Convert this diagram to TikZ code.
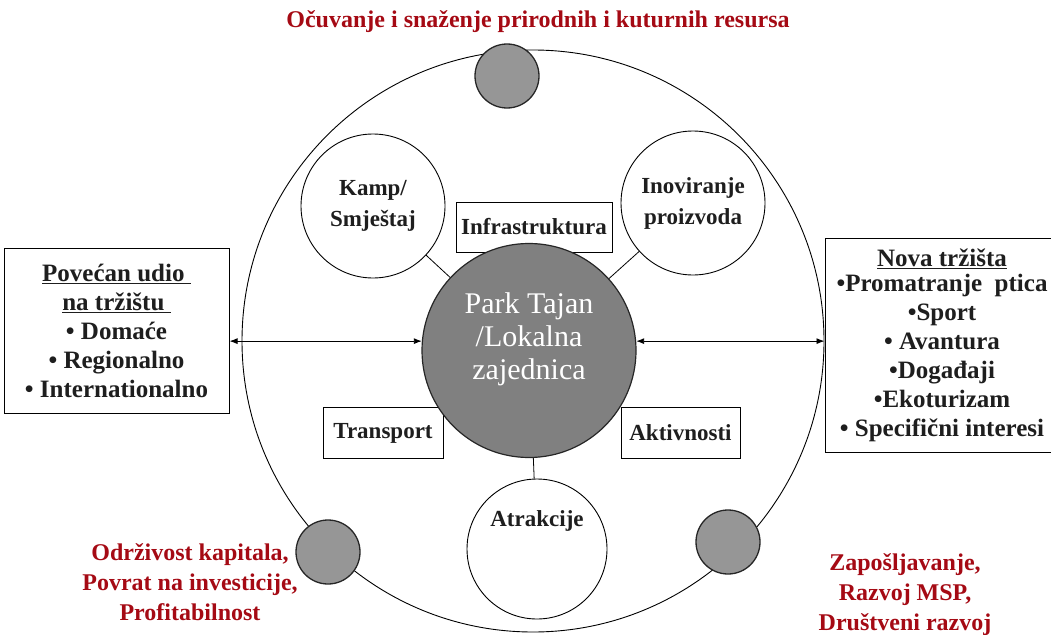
\documentclass[tikz,border=0pt]{standalone}
\usepackage{fontspec}
\setmainfont{Liberation Serif}
\usetikzlibrary{arrows.meta}
\definecolor{darkred}{RGB}{165,10,20}
\definecolor{parkgray}{RGB}{128,128,128}
\definecolor{dotgray}{RGB}{150,150,150}
\definecolor{inkblack}{RGB}{30,30,30}
\begin{document}
\begin{tikzpicture}[x=1pt,y=-1pt,
  lbl/.style={font=\fontsize{23}{31}\selectfont\bfseries, text=inkblack, align=center},
  sidelbl/.style={font=\fontsize{25}{29}\selectfont\bfseries, text=inkblack, align=center},
  redlbl/.style={font=\fontsize{24}{30}\selectfont\bfseries, text=darkred, align=center},
  ring/.style={circle, draw, line width=0.9pt, fill=white, inner sep=0pt},
  dot/.style={circle, draw=black!85, line width=1.3pt, fill=dotgray, minimum size=64pt, inner sep=0pt},
  boxn/.style={draw, line width=1pt, fill=white, inner sep=0pt},
  arr/.style={line width=0.9pt, {Latex[length=8pt,width=6pt]}-{Latex[length=8pt,width=6pt]}},
  link/.style={line width=0.8pt}
]
\useasboundingbox (0,0) rectangle (1051,634);

% outer ring
\node[circle, draw, line width=0.9pt, minimum size=582pt, inner sep=0pt] (outer) at (533,341) {};

% satellite circles
\node[ring, minimum size=144pt, lbl] (kamp) at (373,206) {Kamp/\\Smještaj};
\node[ring, minimum size=144pt, lbl] (inov) at (693,203) {Inoviranje\\proizvoda};
\node[ring, minimum size=140pt] (atr) at (537,549) {};
\node[lbl] (atrl) at (537,521) {Atrakcije};

% boxes
\node[boxn, minimum width=156pt, minimum height=50pt, lbl] (infra) at (534,227) {\raisebox{-3pt}{Infrastruktura}};
\node[boxn, minimum width=120pt, minimum height=51pt, lbl] (trans) at (383,433) {\raisebox{-8pt}{Transport}};
\node[boxn, minimum width=119pt, minimum height=51pt, lbl] (akt) at (680.5,433) {\raisebox{-8pt}{Aktivnosti}};

% links
\draw[link] (kamp) -- (529,350.5);
\draw[link] (inov) -- (529,350.5);

% centre
\node[circle, draw=black!85, line width=1.2pt, fill=parkgray, minimum size=214pt, inner sep=0pt,
  label={[font=\fontsize{30}{33}\selectfont, text=white, align=center, yshift=11pt]center:Park Tajan\\/Lokalna\\zajednica}]
  (park) at (529,350.5) {};
\draw[link] (park) -- (atr);

% dots on the ring
\node[dot] (dtop) at (507,76) {};
\node[dot] (dleft) at (328,552) {};
\node[dot] (dright) at (728,542) {};

% side boxes
\node[boxn, minimum width=225pt, minimum height=165pt, sidelbl] (left) at (116.5,330.5)
  {\underline{Povećan udio\ }\\\underline{na tržištu\ }\\• Domaće\\• Regionalno\\• Internationalno};
\node[boxn, minimum width=234pt, minimum height=214pt, sidelbl] (right) at (942,345)
  {\raisebox{-4pt}{\underline{Nova tržišta}}\\•Promatranje\ \ ptica\\•Sport\\• Avantura\\•Događaji\\•Ekoturizam\\• Specifični interesi};

% arrows
\draw[arr] (left.east |- park.175) -- (park.175);
\draw[arr] (park.5) -- (park.5 -| right.west);

% red texts
\node[redlbl] (rtop) at (538,22) {Očuvanje i snaženje prirodnih i kuturnih resursa};
\node[redlbl] (rleft) at (190,582) {Održivost kapitala,\\Povrat na investicije,\\Profitabilnost};
\node[redlbl] (rright) at (905,595) {Zapošljavanje,\\Razvoj MSP,\\Društveni razvoj};
\end{tikzpicture}
\end{document}
